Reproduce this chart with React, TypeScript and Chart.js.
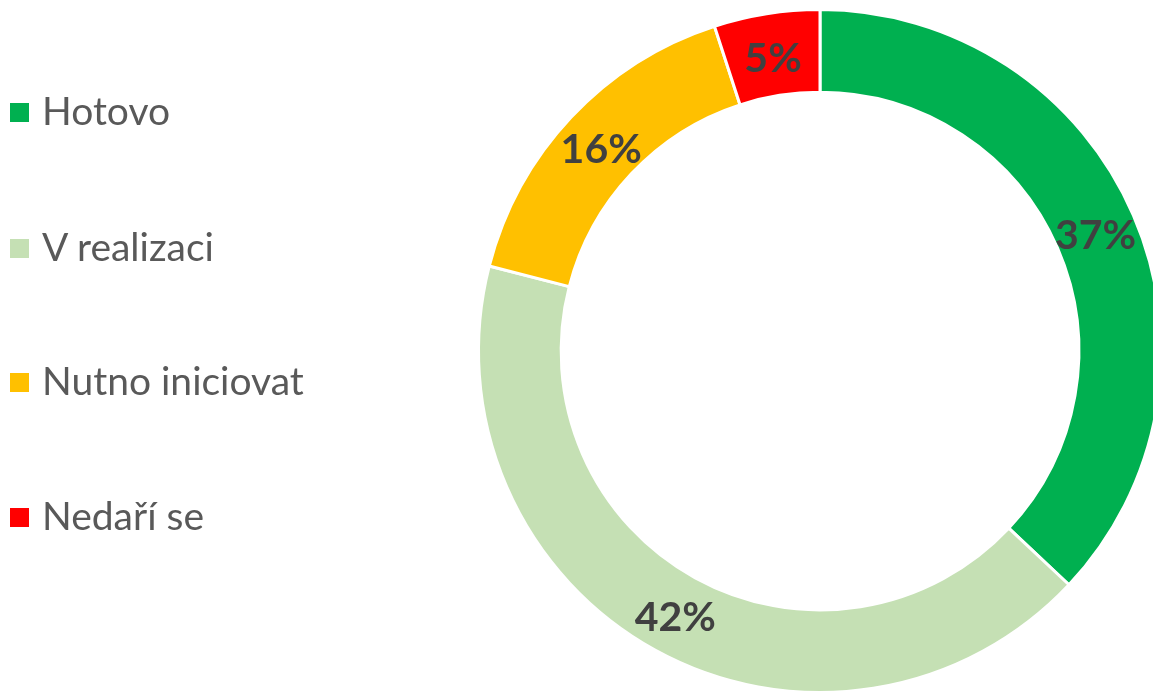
import React, { useEffect, useRef } from "react";
import { Chart, registerables } from "chart.js";

Chart.register(...registerables);

const categories = ["Hotovo", "V realizaci", "Nutno iniciovat", "Nedaří se"];
const values = [37, 42, 16, 5];
const colors = ["#00B050", "#C5E0B4", "#FFC000", "#FF0000"];
const legendTops = [112, 248, 382, 517];

const labelPlugin = {
  id: "pctLabels",
  afterDatasetsDraw(chart: any) {
    const ctx = chart.ctx;
    const meta = chart.getDatasetMeta(0);
    ctx.save();
    ctx.fillStyle = "#404040";
    ctx.font = "bold 41px Lato";
    ctx.textAlign = "center";
    ctx.textBaseline = "middle";
    meta.data.forEach((arc: any, i: number) => {
      const p = arc.tooltipPosition();
      ctx.fillText(values[i] + "%", p.x, p.y + 4);
    });
    ctx.restore();
  },
};

export default function App() {
  const ref = useRef<HTMLCanvasElement>(null);
  useEffect(() => {
    const chart = new Chart(ref.current!, {
      type: "doughnut",
      data: {
        labels: categories,
        datasets: [
          {
            data: values,
            backgroundColor: colors,
            borderColor: "#ffffff",
            borderWidth: 3,
          },
        ],
      },
      options: {
        animation: false,
        responsive: false,
        devicePixelRatio: 1,
        cutout: "75.8%",
        layout: { padding: { left: 477, right: 37, top: 8, bottom: 6 } },
        plugins: { legend: { display: false }, tooltip: { enabled: false } },
      },
      plugins: [labelPlugin],
    });
    return () => chart.destroy();
  }, []);

  return (
    <div
      style={{
        position: "absolute",
        left: 0,
        top: 0,
        width: 1153,
        height: 691,
        overflow: "hidden",
        background: "#fff",
      }}
    >
      <canvas ref={ref} width={1200} height={700} style={{ position: "absolute", left: 0, top: 0 }} />
      {categories.map((c, i) => (
        <div
          key={c}
          style={{
            position: "absolute",
            left: 10,
            top: legendTops[i] - 25,
            height: 50,
            display: "flex",
            alignItems: "center",
            fontFamily: "Lato",
            fontSize: 39,
            color: "#595959",
            whiteSpace: "nowrap",
          }}
        >
          <span
            style={{
              display: "inline-block",
              width: 19,
              height: 19,
              background: colors[i],
              marginRight: 13,
            }}
          />
          <span style={{ position: "relative", top: -2 }}>{c}</span>
        </div>
      ))}
    </div>
  );
}
